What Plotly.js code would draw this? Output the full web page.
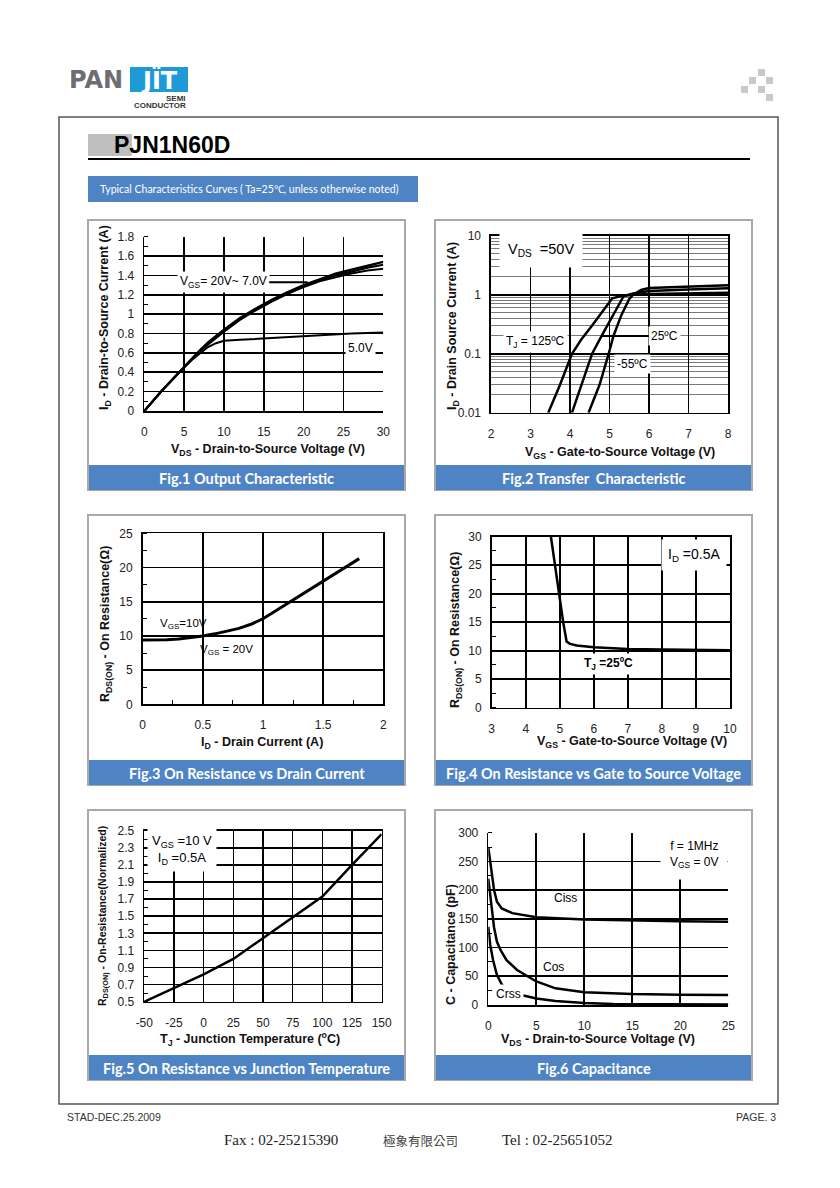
<!DOCTYPE html>
<html><head><meta charset="utf-8">
<script src="https://cdn.plot.ly/plotly-3.0.1.min.js"></script>
<style>html,body{margin:0;padding:0;background:#fff;}#chart{width:840px;height:1188px;}</style>
</head><body><div id="chart"></div>
<script>
// ---------------- DATA ----------------
// Fig.1 Output characteristic (ID vs VDS)
const fig1Vds   = [0,1,2,3,4,5,6,7,8,9,10,12,14,16,18,20,22,24,26,28,30];
const fig1Id20V = [0,0.10,0.19,0.28,0.37,0.46,0.55,0.63,0.71,0.78,0.84,0.96,1.06,1.15,1.23,1.30,1.36,1.42,1.46,1.50,1.54];
const fig1Id10V = [0,0.10,0.19,0.28,0.37,0.46,0.54,0.62,0.70,0.77,0.83,0.95,1.05,1.14,1.22,1.29,1.35,1.40,1.44,1.48,1.51];
const fig1Id7V  = [0,0.10,0.19,0.28,0.37,0.45,0.54,0.62,0.69,0.76,0.82,0.94,1.04,1.13,1.21,1.28,1.34,1.38,1.42,1.45,1.47];
const fig1Id5V  = [0,0.10,0.19,0.28,0.37,0.45,0.53,0.60,0.66,0.70,0.725,0.735,0.745,0.755,0.765,0.775,0.785,0.79,0.80,0.805,0.81];
const fig1XTicks = [0,5,10,15,20,25,30];
const fig1XGrid  = [5,10,15,20,25];
const fig1YTicks = [0,0.2,0.4,0.6,0.8,1,1.2,1.4,1.6,1.8];
const fig1YText  = ["0","0.2","0.4","0.6","0.8","1","1.2","1.4","1.6","1.8"];
const fig1YGrid  = [0.2,0.4,0.6,0.8,1,1.2,1.4,1.6];

// Fig.2 Transfer characteristic (ID vs VGS, log)
const fig2Vgs125 = [3.45,3.75,4.05,4.3,4.56,4.8,5.07,5.3,5.6,6,7,8];
const fig2Id125  = [0.01,0.03,0.1,0.18,0.3,0.5,0.87,0.95,1.0,1.03,1.06,1.08];
const fig2Vgs25  = [4.05,4.3,4.56,4.8,5.0,5.2,5.36,5.6,6,7,8];
const fig2Id25   = [0.01,0.03,0.1,0.2,0.35,0.6,0.95,1.05,1.15,1.22,1.28];
const fig2VgsM55 = [4.47,4.75,4.98,5.1,5.3,5.5,5.6,5.8,6,7,8];
const fig2IdM55  = [0.01,0.03,0.1,0.2,0.45,0.85,1.0,1.2,1.3,1.38,1.45];
const fig2XTicks = [2,3,4,5,6,7,8];
const fig2YTicks = [0.01,0.1,1,10];
const fig2YText  = ["0.01","0.1","1","10"];
const fig2YMinor = [0.02,0.03,0.04,0.05,0.06,0.07,0.08,0.09,0.2,0.3,0.4,0.5,0.6,0.7,0.8,0.9,2,3,4,5,6,7,8,9];

// Fig.3 On resistance vs drain current
const fig3Id = [0,0.1,0.2,0.3,0.4,0.5,0.6,0.7,0.8,0.9,1.0,1.1,1.2,1.3,1.4,1.5,1.6,1.7,1.8];
const fig3R  = [9.4,9.4,9.45,9.55,9.75,10.0,10.3,10.65,11.1,11.7,12.5,13.6,14.7,15.8,16.9,18.0,19.1,20.2,21.3];
const fig3XTicks = [0,0.5,1,1.5,2];
const fig3XText  = ["0","0.5","1","1.5","2"];
const fig3YTicks = [0,5,10,15,20,25];

// Fig.4 On resistance vs gate-to-source voltage
const fig4Vgs = [4.74,4.85,4.98,5.1,5.2,5.3,5.5,6,6.5,7,8,9,10];
const fig4R   = [30,25,20,15,11.6,11.2,10.9,10.6,10.45,10.3,10.2,10.15,10.1];
const fig4XTicks = [3,4,5,6,7,8,9,10];
const fig4YTicks = [0,5,10,15,20,25,30];

// Fig.5 On resistance vs junction temperature
const fig5Tj = [-50,-25,0,25,50,75,100,125,150];
const fig5R  = [0.5,0.66,0.82,1.0,1.24,1.48,1.73,2.1,2.46];
const fig5XTicks = [-50,-25,0,25,50,75,100,125,150];
const fig5XText  = ["-50","-25","0","25","50","75","100","125","150"];
const fig5YTicks = [0.5,0.7,0.9,1.1,1.3,1.5,1.7,1.9,2.1,2.3,2.5];
const fig5YText  = ["0.5","0.7","0.9","1.1","1.3","1.5","1.7","1.9","2.1","2.3","2.5"];

// Fig.6 Capacitance
const fig6CissV = [0,0.3,0.6,0.9,1.4,2.5,5,10,15,20,25];
const fig6Ciss  = [275,235,200,180,168,160,153,149,147,146,145];
const fig6CossV = [0,0.3,0.6,0.9,1.3,1.9,3,5,7,10,15,20,25];
const fig6Coss  = [220,175,135,110,95,78,61,41,29,22,19,18,17.5];
const fig6CrssV = [0,0.2,0.5,0.9,1.4,1.9,3,5,7,10,13,25];
const fig6Crss  = [136,105,78,52,36,27,19,11.5,7,3.5,1.8,1];
const fig6XTicks = [0,5,10,15,20,25];
const fig6XGrid  = [5,10,15,20];
const fig6YTicks = [0,50,100,150,200,250,300];
const fig6YGrid  = [50,100,150,200,250];

const captions = ["Fig.1 Output Characteristic","Fig.2 Transfer  Characteristic",
  "Fig.3 On Resistance vs Drain Current","Fig.4 On Resistance vs Gate to Source Voltage",
  "Fig.5 On Resistance vs Junction Temperature","Fig.6 Capacitance"];

// ---------------- LAYOUT HELPERS ----------------
const W = 840, H = 1188;
const PX = p => p / W, PY = p => 1 - p / H;
const FONT = 'Liberation Sans, Arial, sans-serif';
const BLUE = '#4f84c4';

function xAxis(l, r, anchor, range, vals, text, extra) {
  return Object.assign({
    domain: [PX(l), PX(r)], anchor: anchor, range: range,
    tickmode: 'array', tickvals: vals, ticktext: text || vals.map(String),
    showgrid: true, gridcolor: '#000', gridwidth: 1.6,
    showline: true, linecolor: '#000', linewidth: 1.6, zeroline: false,
    ticks: '', ticklabelstandoff: 9,
    tickfont: {family: FONT, size: 12, color: '#222'}, fixedrange: true
  }, extra || {});
}
function yAxis(t, b, anchor, range, vals, text, extra) {
  return Object.assign({
    domain: [PY(b), PY(t)], anchor: anchor, range: range,
    tickmode: 'array', tickvals: vals, ticktext: text || vals.map(String),
    showgrid: true, gridcolor: '#000', gridwidth: 1.6,
    showline: true, linecolor: '#000', linewidth: 1.6, zeroline: false,
    ticks: '', ticklabelstandoff: 6,
    tickfont: {family: FONT, size: 12, color: '#222'}, fixedrange: true
  }, extra || {});
}
function gridOnly(over, anchor, range, vals) {
  return {overlaying: over, anchor: anchor, range: range, tickmode: 'array', tickvals: vals,
    showticklabels: false, ticks: '', showline: false, zeroline: false,
    showgrid: true, gridcolor: '#000', gridwidth: 1.6, fixedrange: true};
}
function line(x, y, ax, w) {
  return {type: 'scatter', mode: 'lines', x: x, y: y, xaxis: 'x' + ax, yaxis: 'y' + ax,
          line: {color: '#000', width: w || 2.5}, showlegend: false, hoverinfo: 'skip'};
}

// ---------------- TRACES ----------------
const traces = [
  {type: 'scatter', mode: 'lines', x: [], y: [], xaxis: 'x7', yaxis: 'y7', showlegend: false},
  {type: 'scatter', mode: 'lines', x: [], y: [], xaxis: 'x8', yaxis: 'y8', showlegend: false},
  line(fig1Vds, fig1Id20V, '', 2.2), line(fig1Vds, fig1Id10V, '', 2.2),
  line(fig1Vds, fig1Id7V, '', 2), line(fig1Vds, fig1Id5V, '', 2),
  line(fig2Vgs125, fig2Id125, '2'), line(fig2Vgs25, fig2Id25, '2'), line(fig2VgsM55, fig2IdM55, '2'),
  line(fig3Id, fig3R, '3', 3),
  line(fig4Vgs, fig4R, '4'),
  line(fig5Tj, fig5R, '5'),
  line(fig6CissV, fig6Ciss, '6'), line(fig6CossV, fig6Coss, '6'), line(fig6CrssV, fig6Crss, '6')
];

// ---------------- SHAPES ----------------
const shapes = [];
function rect(x0, y0, x1, y1, fill, lc, lw) {
  shapes.push({type: 'rect', xref: 'paper', yref: 'paper', x0: PX(x0), x1: PX(x1), y0: PY(y1), y1: PY(y0),
    fillcolor: fill || 'rgba(0,0,0,0)', line: {color: lc || 'rgba(0,0,0,0)', width: lw || 0}, layer: 'below'});
}
function hline(x0, x1, y, c, w) {
  shapes.push({type: 'line', xref: 'paper', yref: 'paper', x0: PX(x0), x1: PX(x1), y0: PY(y), y1: PY(y),
    line: {color: c, width: w}});
}
rect(59, 117, 778, 1104, null, '#555', 1.5);                 // page frame
rect(130, 67, 188, 92, '#1e9ad6');                            // logo box
[[758,69],[749,77],[766,77],[741,86],[758,86],[766,94]].forEach(p => rect(p[0], p[1], p[0]+7, p[1]+7, '#c9c9c9'));
rect(88, 134, 132, 156, '#bfbfbf');                           // title gray block
hline(88, 750, 159, '#000', 2);
rect(88, 176, 418, 202, BLUE);                                // banner
const panelX = [[88, 405], [435, 752]];
const panelY = [220, 515, 810];
const annotations = [];
captions.forEach((c, i) => {
  const px = panelX[i % 2], top = panelY[Math.floor(i / 2)];
  rect(px[0], top, px[1], top + 270, '#fff', '#a9a9a9', 2);
  rect(px[0] + 1, top + 245, px[1] - 1, top + 270, BLUE);
  annotations.push({xref: 'paper', yref: 'paper', x: PX((px[0] + px[1]) / 2), y: PY(top + 258),
    xanchor: 'center', yanchor: 'middle',
    text: c, showarrow: false, font: {family: 'Lato, Open Sans, sans-serif', size: 14.5, color: '#fff', weight: 'bold'}});
});

// ---------------- TEXT ----------------
function pa(x, y, text, opt) {
  annotations.push(Object.assign({xref: 'paper', yref: 'paper', x: PX(x), y: PY(y), text: text, showarrow: false,
    xanchor: 'center', yanchor: 'middle', font: {family: FONT, size: 12, color: '#000'}}, opt || {}));
}
function da(ax, x, y, text, opt) {
  annotations.push(Object.assign({xref: 'x' + ax, yref: 'y' + ax, x: x, y: y, text: text, showarrow: false,
    xanchor: 'center', yanchor: 'middle', font: {family: FONT, size: 12, color: '#000'}}, opt || {}));
}
const B = {family: FONT, size: 12.5, color: '#111'};
// logo & header
pa(96, 80, '<b>PAN</b>', {font: {family: 'DejaVu Sans, sans-serif', size: 24, color: '#6d6e71'}});
pa(159, 81, '<b>JÏT</b>', {font: {family: 'DejaVu Sans, sans-serif', size: 24, color: '#fff'}});
pa(188, 98, '<b>SEMI</b>', {xanchor: 'right', font: {family: FONT, size: 8, color: '#333'}});
pa(188, 106, '<b>CONDUCTOR</b>', {xanchor: 'right', font: {family: FONT, size: 8, color: '#333'}});
pa(112, 145, '<b>PJN1N60D</b>', {xanchor: 'left', font: {family: FONT, size: 23, color: '#000'}});
pa(98, 189, 'Typical Characteristics Curves ( Ta=25℃, unless otherwise noted)', {xanchor: 'left', font: {family: 'Lato, Open Sans, sans-serif', size: 10.5, color: '#fff'}});
// footer
pa(65, 1117, 'STAD-DEC.25.2009', {xanchor: 'left', font: {family: FONT, size: 10.5, color: '#333'}});
pa(778, 1117, 'PAGE. 3', {xanchor: 'right', font: {family: FONT, size: 10.5, color: '#333'}});
pa(222, 1140, 'Fax : 02-25215390', {xanchor: 'left', font: {family: 'Liberation Serif, serif', size: 15, color: '#222'}});
pa(381, 1140, '極象有限公司', {xanchor: 'left', font: {family: 'Noto Sans CJK TC, sans-serif', size: 12.5, color: '#444'}});
pa(500, 1140, 'Tel : 02-25651052', {xanchor: 'left', font: {family: 'Liberation Serif, serif', size: 15, color: '#222'}});

// axis titles
pa(268, 450, '<b>V<sub>DS</sub> - Drain-to-Source Voltage (V)</b>', {font: B});
pa(105, 318, '<b>I<sub>D</sub> - Drain-to-Source Current (A)</b>', {textangle: -90, font: B});
pa(620, 453, '<b>V<sub>GS</sub> - Gate-to-Source Voltage (V)</b>', {font: B});
pa(453, 326, '<b>I<sub>D</sub> - Drain Source Current (A)</b>', {textangle: -90, font: B});
pa(262, 743, '<b>I<sub>D</sub> - Drain Current (A)</b>', {font: B});
pa(106, 624, '<b>R<sub>DS(ON)</sub> - On Resistance(Ω)</b>', {textangle: -90, font: B});
pa(632, 742, '<b>V<sub>GS</sub> - Gate-to-Source Voltage (V)</b>', {font: B});
pa(456, 630, '<b>R<sub>DS(ON)</sub> - On Resistance(Ω)</b>', {textangle: -90, font: B});
pa(250, 1039, '<b>T<sub>J</sub> - Junction Temperature (<sup>o</sup>C)</b>', {font: B});
pa(103, 916, '<b>R<sub>DS(ON)</sub> - On-Resistance(Normalized)</b>', {textangle: -90, font: {family: FONT, size: 10.5, color: '#111'}});
pa(598, 1040, '<b>V<sub>DS</sub> - Drain-to-Source Voltage (V)</b>', {font: B});
pa(451, 945, '<b>C - Capacitance (pF)</b>', {textangle: -90, font: B});

// in-plot labels
const WB = {bgcolor: '#fff', borderpad: 2};
const lg = Math.log10;
da('', 20.5, 1.33, 'V<sub>GS</sub>= 20V~ 7.0V', Object.assign({showarrow: true, axref: 'x', ayref: 'y', ax: 9.9, ay: 1.33, arrowhead: 0, arrowwidth: 2, arrowcolor: '#000'}, WB));
da('', 27.1, 0.65, '5.0V', WB);
da('2', 2.2, lg(5.7), 'V<sub>DS</sub>  =50V', {xanchor: 'left', font: {family: FONT, size: 14.5, color: '#000'}, bgcolor: '#fff', borderpad: 8});
da('2', 3.12, lg(0.16), 'T<sub>J</sub> = 125ºC', WB);
da('2', 4.81, lg(0.2), '25ºC', Object.assign({showarrow: true, axref: 'x2', ayref: 'y2', ax: 6.4, ay: lg(0.2), arrowhead: 0, arrowwidth: 2, arrowcolor: '#000'}, WB));
da('2', 5.58, lg(0.067), '-55ºC', WB);
da('3', 0.34, 11.8, 'V<sub>GS</sub>=10V', {font: {family: FONT, size: 11.5, color: '#000'}});
da('3', 0.70, 7.9, 'V<sub>GS</sub> = 20V', {font: {family: FONT, size: 11.5, color: '#000'}});
da('4', 8.93, 26.8, 'I<sub>D</sub> =0.5A', {font: {family: FONT, size: 14, color: '#000'}, bgcolor: '#fff', borderpad: 6});
da('4', 6.43, 7.6, '<b>T<sub>J</sub> =25ºC</b>', WB);
da('5', -18.5, 2.27, 'V<sub>GS</sub> =10 V<br>I<sub>D</sub> =0.5A', {bgcolor: '#fff', borderpad: 4, font: {family: FONT, size: 13, color: '#000'}});
da('6', 8, 187, 'Ciss');
da('6', 6.8, 67, 'Cos');
da('6', 2.1, 18.6, 'Crss', WB);
da('6', 25, 262, 'f = 1MHz<br>V<sub>GS</sub> = 0V', {xanchor: 'right', align: 'right', bgcolor: '#fff', borderpad: 9});

// ---------------- AXES ----------------
const minorIn = d => ({ticks: 'inside', ticklen: 4, tickcolor: '#000', tickwidth: 1, dtick: d, showgrid: false});
const layout = {
  width: W, height: H, margin: {l: 0, r: 0, t: 0, b: 0},
  paper_bgcolor: '#fff', plot_bgcolor: 'rgba(0,0,0,0)', showlegend: false,
  shapes: shapes, annotations: annotations,
  xaxis:  xAxis(144.3, 383.3, 'y',  [0, 30], fig1XTicks, null, {showgrid: false}),
  yaxis:  yAxis(236.7, 411, 'x',  [0, 1.8], fig1YTicks, fig1YText, {showgrid: false, minor: minorIn(0.1)}),
  xaxis7: gridOnly('x', 'y7', [0, 30], fig1XGrid),
  yaxis7: gridOnly('y', 'x7', [0, 1.8], fig1YGrid),
  xaxis2: xAxis(491, 728, 'y2', [2, 8], fig2XTicks, null, {mirror: true}),
  yaxis2: yAxis(235.7, 412.7, 'x2', [-2, 1], fig2YTicks, fig2YText, {type: 'log', mirror: true,
           minor: {tickmode: 'array', tickvals: fig2YMinor, showgrid: true, gridcolor: '#7a7a7a', gridwidth: 1, ticks: ''}}),
  xaxis3: xAxis(142.7, 383.3, 'y3', [0, 2], fig3XTicks, fig3XText, {mirror: true, minor: minorIn(0.25)}),
  yaxis3: yAxis(533.3, 704.3, 'x3', [0, 25], fig3YTicks, null, {mirror: true, minor: minorIn(2.5)}),
  xaxis4: xAxis(491.7, 730, 'y4', [3, 10], fig4XTicks, null, {mirror: true}),
  yaxis4: yAxis(536.7, 707.7, 'x4', [0, 30], fig4YTicks, null, {mirror: true, minor: minorIn(2.5)}),
  xaxis5: xAxis(144.3, 381.7, 'y5', [-50, 150], fig5XTicks, fig5XText, {mirror: true}),
  yaxis5: yAxis(830.7, 1001.7, 'x5', [0.5, 2.5], fig5YTicks, fig5YText, {mirror: true, minor: minorIn(0.1)}),
  xaxis6: xAxis(488.3, 728.3, 'y6', [0, 25], fig6XTicks, null, {showgrid: false}),
  yaxis6: yAxis(832.7, 1005, 'x6', [0, 300], fig6YTicks, null, {showgrid: false, minor: minorIn(25)}),
  xaxis8: gridOnly('x6', 'y8', [0, 25], fig6XGrid),
  yaxis8: gridOnly('y6', 'x8', [0, 300], fig6YGrid)
};
Plotly.newPlot('chart', traces, layout, {staticPlot: true, displayModeBar: false});
</script></body></html>
